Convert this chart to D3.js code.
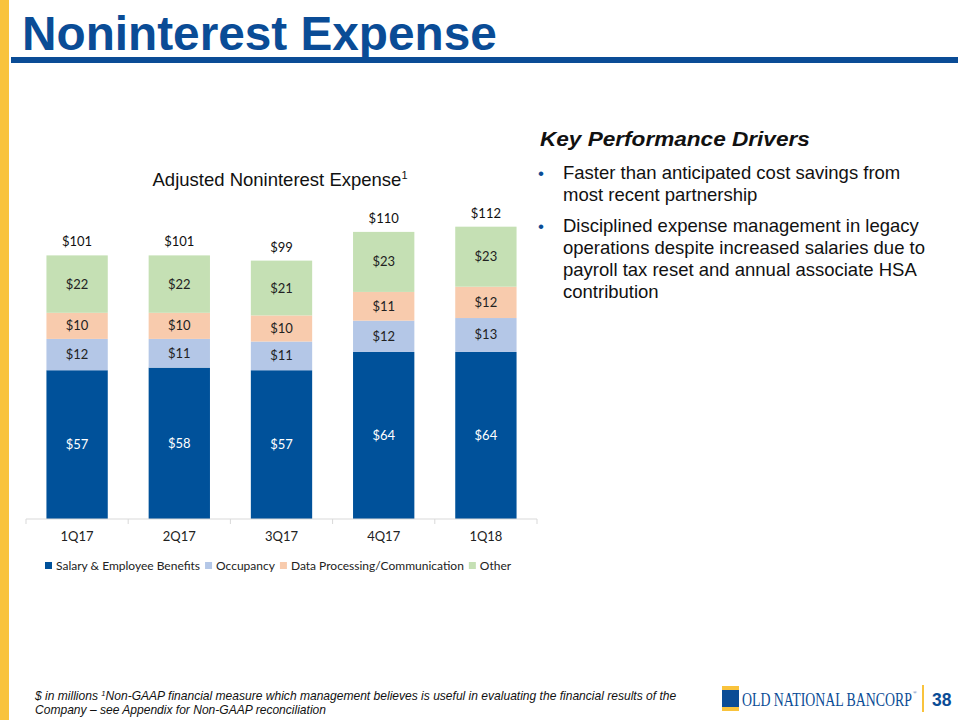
<!DOCTYPE html>
<html><head><meta charset="utf-8">
<script src="https://cdn.jsdelivr.net/npm/d3@7/dist/d3.min.js"></script>
<style>
html,body{margin:0;padding:0;background:#fff;}
svg{display:block;}
</style></head>
<body>
<svg id="c" width="960" height="720"></svg>
<script>
const categories = ["1Q17","2Q17","3Q17","4Q17","1Q18"];
const seriesNames = ["Salary & Employee Benefits","Occupancy","Data Processing/Communication","Other"];
const salary = [57,58,57,64,64];
const occupancy = [12,11,11,12,13];
const dataProc = [10,10,10,11,12];
const other = [22,22,21,23,23];
const totals = [101,101,99,110,112];
const colors = ["#00519A","#B4C7E7","#F8CBAD","#C5E0B4"];
const labelColors = ["#ffffff","#222222","#222222","#222222"];
const bullets = [
  ["Faster than anticipated cost savings from","most recent partnership"],
  ["Disciplined expense management in legacy","operations despite increased salaries due to","payroll tax reset and annual associate HSA","contribution"]
];

const svg = d3.select("#c");
const blue = "#0A4C96";

// helper: place text at (x,y) scaled horizontally to a target width
function fitText(parent, x, y, width, attrs, content, isHtml){
  const g = parent.append("g").attr("transform",`translate(${x},${y})`);
  const t = g.append("text");
  Object.entries(attrs).forEach(([k,v])=>t.attr(k,v));
  if(isHtml) t.html(content); else t.text(content);
  const w = t.node().getComputedTextLength();
  const sx = width / w;
  g.attr("transform",`translate(${x},${y}) scale(${sx},1)`);
  return sx;
}

// left yellow bar
svg.append("rect").attr("x",0).attr("y",0).attr("width",9).attr("height",720).attr("fill","#F9C33C");
// title
fitText(svg,22,50,475,{"font-family":"Liberation Sans Narrow, Liberation Sans, Arial, sans-serif","font-weight":"bold","font-size":48,"fill":blue},"Noninterest Expense");
svg.append("rect").attr("x",11).attr("y",57).attr("width",947).attr("height",6).attr("fill",blue);

// chart
const table = categories.map((c,i)=>({cat:c, s0:salary[i], s1:occupancy[i], s2:dataProc[i], s3:other[i], total:totals[i]}));
const keys = ["s0","s1","s2","s3"];
const stack = d3.stack().keys(keys)(table);

const x = d3.scaleBand().domain(categories).range([26,537]).paddingInner(0.4).paddingOuter(0.2);
const y = d3.scaleLinear().domain([0,120]).range([519,519-313.2]);

const cf = "Lato, 'Open Sans', sans-serif";

svg.append("text").attr("x",280).attr("y",186).attr("text-anchor","middle")
  .attr("font-family","Liberation Sans, Arial, sans-serif").attr("font-size",18.5).attr("fill","#111")
  .html('Adjusted Noninterest Expense<tspan font-size="11" dy="-7">1</tspan>');

const g = svg.append("g");
stack.forEach((layer,li)=>{
  const lg = g.append("g");
  lg.selectAll("rect").data(layer).join("rect")
    .attr("x",d=>x(d.data.cat)).attr("width",x.bandwidth())
    .attr("y",d=>y(d[1])).attr("height",d=>y(d[0])-y(d[1]))
    .attr("fill",colors[li]);
  lg.selectAll("text").data(layer).join("text")
    .attr("x",d=>x(d.data.cat)+x.bandwidth()/2)
    .attr("y",d=>(y(d[0])+y(d[1]))/2+4.5)
    .attr("text-anchor","middle").attr("font-family",cf).attr("font-size",13)
    .attr("fill",labelColors[li]).text(d=>"$"+(d[1]-d[0]));
});
g.selectAll("text.tot").data(table).join("text").attr("class","tot")
  .attr("x",d=>x(d.cat)+x.bandwidth()/2).attr("y",d=>y(d.total)-9)
  .attr("text-anchor","middle").attr("font-family",cf).attr("font-size",13).attr("fill","#111")
  .text(d=>"$"+d.total);

// x axis
const ax = svg.append("g").attr("transform","translate(0,519)");
ax.append("line").attr("x1",26).attr("x2",537).attr("stroke","#d9d9d9");
const bounds = d3.range(categories.length+1).map(i=>26+i*(511/categories.length));
ax.selectAll("line.t").data(bounds).join("line").attr("class","t")
  .attr("x1",d=>d).attr("x2",d=>d).attr("y1",0).attr("y2",5).attr("stroke","#d9d9d9");
ax.selectAll("text").data(categories).join("text")
  .attr("x",d=>x(d)+x.bandwidth()/2).attr("y",22).attr("text-anchor","middle")
  .attr("font-family",cf).attr("font-size",13).attr("fill","#222").text(d=>d);

// legend
const leg = svg.append("g");
let lx = 45;
seriesNames.forEach((n,i)=>{
  leg.append("rect").attr("x",lx).attr("y",562).attr("width",7).attr("height",7).attr("fill",colors[i]);
  const t = leg.append("text").attr("x",lx+11).attr("y",570).attr("font-family",cf).attr("font-size",12)
    .attr("fill","#222").text(n);
  lx += 11 + t.node().getComputedTextLength() + 5;
});

// right text
const tf = "Liberation Sans, Arial, sans-serif";
fitText(svg,540,146,270,{"font-family":tf,"font-size":21,"font-weight":"bold","font-style":"italic","fill":"#111"},"Key Performance Drivers");
let by = 179;
bullets.forEach((b,bi)=>{
  svg.append("text").attr("x",538).attr("y",by).attr("font-family",tf).attr("font-size",17).attr("fill",blue).text("•");
  b.forEach((line,li)=>{
    svg.append("text").attr("x",563).attr("y",by+li*22).attr("font-family",tf).attr("font-size",18.5)
      .attr("fill","#111").text(line);
  });
  by += b.length*22 + 9;
});

// footer
const ff = {"font-family":"Liberation Sans Narrow, Liberation Sans, Arial, sans-serif","font-size":12.5,"font-style":"italic","fill":"#111"};
const fsx = fitText(svg,35,700,642,ff,'$ in millions  <tspan font-size="8" dy="-4">1</tspan><tspan dy="4">Non-GAAP financial measure which management believes is useful in evaluating the financial results of the</tspan>',true);
const f2 = svg.append("g").attr("transform",`translate(35,714) scale(${fsx},1)`).append("text");
Object.entries(ff).forEach(([k,v])=>f2.attr(k,v));
f2.text("Company – see Appendix for Non-GAAP reconciliation");

// logo
svg.append("rect").attr("x",722).attr("y",686).attr("width",17).attr("height",4).attr("fill","#F9C33C");
svg.append("rect").attr("x",722).attr("y",690).attr("width",17).attr("height",17).attr("fill","#0A4C96");
svg.append("rect").attr("x",722).attr("y",707).attr("width",17).attr("height",4).attr("fill","#F9C33C");
fitText(svg,742,706,170,{"font-family":"Liberation Serif, Times New Roman, serif","font-size":19.5,"fill":"#0A4C96"},"OLD NATIONAL BANCORP");
svg.append("text").attr("x",913).attr("y",694).attr("font-family","Liberation Serif, serif").attr("font-size",5).attr("fill","#0A4C96").text("®");
svg.append("rect").attr("x",922).attr("y",685).attr("width",2).attr("height",27).attr("fill","#F9C33C");
svg.append("text").attr("x",932).attr("y",706).attr("font-family",tf).attr("font-size",17.5).attr("font-weight","bold")
  .attr("fill","#0A4C96").text("38");
</script>
</body></html>
